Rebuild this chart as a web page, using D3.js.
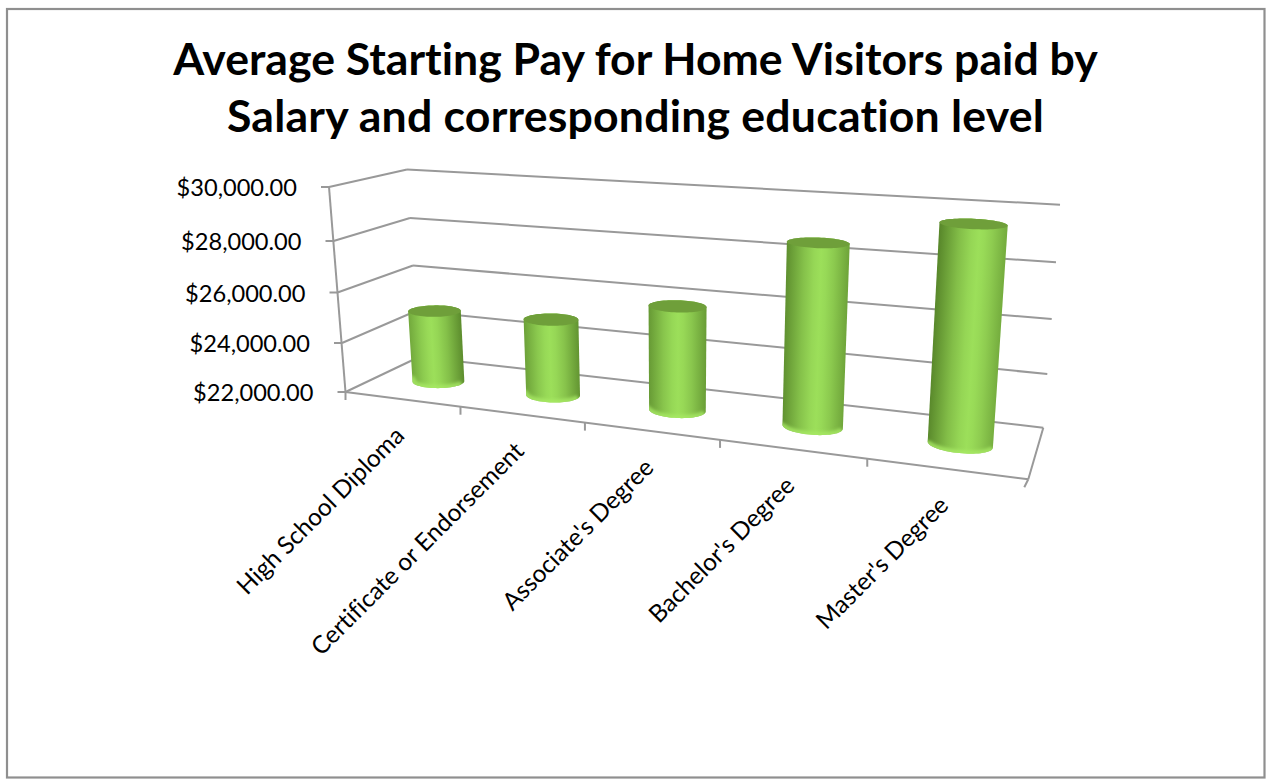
<!DOCTYPE html>
<html><head><meta charset="utf-8">
<script src="https://cdn.jsdelivr.net/npm/d3@7"></script>
<style>html,body{margin:0;padding:0;background:#fff}svg{display:block}text{font-family:Lato,"Open Sans",sans-serif;fill:#000;font-variant-ligatures:none}</style>
</head><body><svg id="c" width="1266" height="779"></svg>
<script>
const titleLines = ["Average Starting Pay for Home Visitors paid by","Salary and corresponding education level"];
const categories = ["High School Diploma","Certificate or Endorsement","Associate's Degree","Bachelor's Degree","Master's Degree"];
const salaries = [24900,25020,26000,28700,29700];
const valueTicks = [22000,24000,26000,28000,30000];
const frontLeftPts = [[345.5,392],[342,343],[337.5,292.5],[333.5,241],[329,187]];
const backLeftPts  = [[419,357],[416,311],[413,265.5],[410,218],[407,169.5]];
const backRightPts = [[1043.3,427.7],[1047.3,374],[1051.7,319],[1056,262.3],[1060,204.7]];
const frontRightPts= [[1028.3,479.3],[1033,420.5],[1037.5,360],[1042,298],[1046.5,235]];

const svg = d3.select("#c");
const defs = svg.append("defs");
defs.append("filter").attr("id","soft").attr("x","-20%").attr("y","-50%").attr("width","140%").attr("height","200%")
  .append("feGaussianBlur").attr("stdDeviation",1.6);
const scaleOf = pts => d3.scaleLinear().domain(valueTicks).range(pts);
const FL=scaleOf(frontLeftPts),BL=scaleOf(backLeftPts),BR=scaleOf(backRightPts),FR=scaleOf(frontRightPts);
const n = categories.length;
const band = d3.scaleLinear().domain([0,n]).range([0,1]);
const persp = t => { const r=.81; return t*r/(1+t*(r-1)); };
const mix=(a,b,k)=>[a[0]+(b[0]-a[0])*k,a[1]+(b[1]-a[1])*k];
function project(t,d,v){
  const u=persp(t);
  return mix(mix(FL(v),FR(v),u),mix(BL(v),BR(v),u),d);
}
const GRID="#999999";
const g=svg.append("g").attr("fill","none").attr("stroke",GRID).attr("stroke-width",2);
const seg=(a,b,w)=>g.append("line").attr("x1",a[0]).attr("y1",a[1]).attr("x2",b[0]).attr("y2",b[1]).attr("stroke-width",w||2);

// outer frame
svg.append("rect").attr("x",7).attr("y",9).attr("width",1257.5).attr("height",768.5).attr("fill","none").attr("stroke","#8f8f8f").attr("stroke-width",2.2);

// walls
valueTicks.forEach(v=>{
  seg(FL(v),BL(v)); seg(BL(v),BR(v));
  const p=FL(v); seg([p[0]-8,p[1]],p);
});
seg(FL(valueTicks[0]),FL(valueTicks[4]));
seg(FL(valueTicks[0]),FR(valueTicks[0]));
seg(FR(valueTicks[0]),BR(valueTicks[0]));
d3.range(n+1).forEach(i=>{
  const p=project(band(i),0,valueTicks[0]);
  seg(p,[p[0]-(i==n?4:0),p[1]+8]);
});

// value labels
valueTicks.forEach(v=>{
  const p=FL(v);
  svg.append("text").attr("x",p[0]-32).attr("y",p[1]+1).attr("dy","0.35em").attr("text-anchor","end")
    .attr("font-size",23.6).text(d3.format("$,.2f")(v));
});

// cylinders
const HI="#9cdf5a",DK="#568429";
const rt=.042, rd=.17;
const ring=(t,v)=>d3.range(0,72).map(k=>{const a=k/72*2*Math.PI;return project(t+rt*Math.cos(a),.5+rd*Math.sin(a),v);});
const lineC=d3.line().curve(d3.curveLinearClosed);
salaries.forEach((val,i)=>{
  const t=band(i+.5)+.004;
  const base=ring(t,valueTicks[0]), top=ring(t,val);
  const bc=project(t,.5,valueTicks[0]), tc=project(t,.5,val);
  const hull=d3.polygonHull(base.concat(top));
  let ax=tc[0]-bc[0],ay=tc[1]-bc[1];const L=Math.hypot(ax,ay);ax/=L;ay/=L;
  const nx=-ay,ny=ax; // nx > 0: points from the bar's left edge to its right edge
  const w=d3.max(base,p=>Math.abs((p[0]-bc[0])*nx+(p[1]-bc[1])*ny));
  const h=.40+.22*t;
  const id="g"+i;
  const gr=defs.append("linearGradient").attr("id",id).attr("gradientUnits","userSpaceOnUse")
    .attr("x1",bc[0]-w*nx).attr("y1",bc[1]-w*ny).attr("x2",bc[0]+w*nx).attr("y2",bc[1]+w*ny);
  [0,h*.5,h*.8,h,h+(1-h)*.2,h+(1-h)*.5,1].forEach(o=>{
    const k=Math.pow(Math.abs(o-h)/.62,1.4);
    gr.append("stop").attr("offset",o).attr("stop-color",d3.interpolateRgb(HI,DK)(Math.min(1,k)));
  });
  svg.append("path").attr("d",lineC(hull)).attr("fill",`url(#${id})`);
  defs.append("clipPath").attr("id","cp"+i).append("path").attr("d",lineC(hull));
  const front=d3.range(0,37).map(k=>{const a=k/36*Math.PI;return project(t+rt*Math.cos(a),.5-rd*Math.sin(a),valueTicks[0]);});
  svg.append("g").attr("clip-path",`url(#cp${i})`)
    .append("path").attr("d",d3.line()(front)).attr("fill","none").attr("stroke","#a8ea64").attr("stroke-width",7)
    .attr("stroke-opacity",.8).attr("filter","url(#soft)");
  svg.append("path").attr("d",lineC(top)).attr("fill","#6f9f3a");
});

// category labels
categories.forEach((c,i)=>{
  const p=project(band(i+.5),0,valueTicks[0]);
  svg.append("text").attr("transform",`translate(${p[0]+4},${p[1]+38}) rotate(-45)`)
    .attr("text-anchor","end").attr("font-size",24.4).text(c);
});

// title
titleLines.forEach((s,i)=>{
  svg.append("text").attr("x",635.5).attr("y",74.5+i*57.5).attr("text-anchor","middle")
    .attr("font-size",44.6).attr("font-weight",700).attr("letter-spacing",i?.2:0).text(s);
});
</script></body></html>
